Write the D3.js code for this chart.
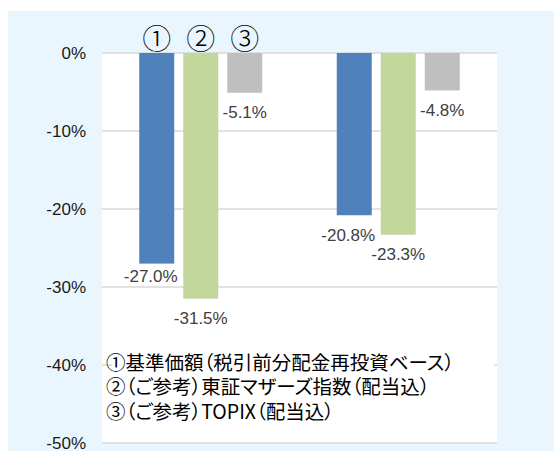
<!DOCTYPE html>
<html><head><meta charset="utf-8">
<script src="https://cdn.jsdelivr.net/npm/d3@7"></script>
<style>body{margin:0;background:#fff}svg{display:block}.leg{font-feature-settings:"palt"}</style>
</head><body>
<script>
const categories = ["期間1", "期間2"];
const seriesNames = ["①", "②", "③"];
const fundValues = [-27.0, -20.8];
const mothersValues = [-31.5, -23.3];
const topixValues = [-5.1, -4.8];
const yTicks = [0, -10, -20, -30, -40, -50];
const legendLines = ["①基準価額（税引前分配金再投資ベース）", "②（ご参考）東証マザーズ指数（配当込）", "③（ご参考）TOPIX（配当込）"];

const W = 554, H = 451;
const colors = ["#4F81BD", "#C3D69B", "#BFBFBF"];
const svg = d3.select("body").append("svg").attr("width", W).attr("height", H);
svg.append("rect").attr("x", 8).attr("y", 11).attr("width", W - 8).attr("height", H - 11).attr("fill", "#EAF6FE");

const y = d3.scaleLinear().domain([0, -50]).range([53, 443]);
const x0 = d3.scaleBand().domain(categories).range([102, 497]);
const x1 = d3.scaleBand().domain(seriesNames).range([0, 123]).paddingInner(0.205);

svg.append("rect").attr("x", 102).attr("y", y(0)).attr("width", 395).attr("height", y(-50) - y(0)).attr("fill", "#fff");

// grid
svg.selectAll("line.grid").data(yTicks).join("line").attr("class", "grid")
  .attr("x1", 102).attr("x2", 497).attr("y1", d => y(d)).attr("y2", d => y(d))
  .attr("stroke", "#D9D9D9").attr("stroke-width", 1.5);

// y axis labels
const yAxis = d3.axisLeft(y).tickValues(yTicks).tickFormat(d => d + "%").tickSize(0).tickPadding(0);
const ga = svg.append("g").attr("transform", "translate(86,0)").call(yAxis);
ga.select(".domain").remove();
ga.selectAll("text").attr("font-family", "'Liberation Sans', Arial, sans-serif").attr("font-size", 17).attr("fill", "#1a1a1a");

const allValues = [fundValues, mothersValues, topixValues];
const data = [];
categories.forEach((c, i) => seriesNames.forEach((s, j) => data.push({c, s, j, v: allValues[j][i]})));
const groupOffset = (x0.bandwidth() - 123) / 2;

svg.selectAll("rect.bar").data(data).join("rect").attr("class", "bar")
  .attr("x", d => x0(d.c) + groupOffset + x1(d.s)).attr("y", y(0))
  .attr("width", x1.bandwidth()).attr("height", d => y(d.v) - y(0))
  .attr("fill", d => colors[d.j]);

// label nudges (style only)
const nudge = {"期間1|①": [-6, -7], "期間2|①": [-6, 0]};
svg.selectAll("text.lbl").data(data).join("text").attr("class", "lbl")
  .attr("x", d => x0(d.c) + groupOffset + x1(d.s) + x1.bandwidth() / 2 + (nudge[d.c + "|" + d.s] || [0, 0])[0])
  .attr("y", d => y(d.v) + 20 + (nudge[d.c + "|" + d.s] || [0, 0])[1])
  .attr("dominant-baseline", "central").attr("text-anchor", "middle")
  .attr("font-family", "'Liberation Sans', Arial, sans-serif").attr("font-size", 17).attr("fill", "#404040")
  .text(d => d.v.toFixed(1) + "%");

// circled numbers above first group
svg.selectAll("text.num").data(seriesNames).join("text").attr("class", "num")
  .attr("x", d => x0(categories[0]) + groupOffset + x1(d) + x1.bandwidth() / 2)
  .attr("y", 37).attr("dominant-baseline", "central").attr("text-anchor", "middle")
  .attr("font-family", "'Noto Sans CJK JP', sans-serif").attr("font-size", 29).attr("font-weight", 300).attr("fill", "#000")
  .text(d => d);

// legend box
svg.append("rect").attr("x", 112).attr("y", 342).attr("width", 382).attr("height", 84).attr("fill", "#fff");
svg.selectAll("text.leg").data(legendLines).join("text").attr("class", "leg")
  .attr("x", 106).attr("y", (d, i) => 361 + i * 24.5).attr("dominant-baseline", "central")
  .attr("font-family", "'Noto Sans CJK JP', sans-serif").attr("font-size", 19.5).attr("fill", "#000")
  .text(d => d);
</script>
</body></html>
